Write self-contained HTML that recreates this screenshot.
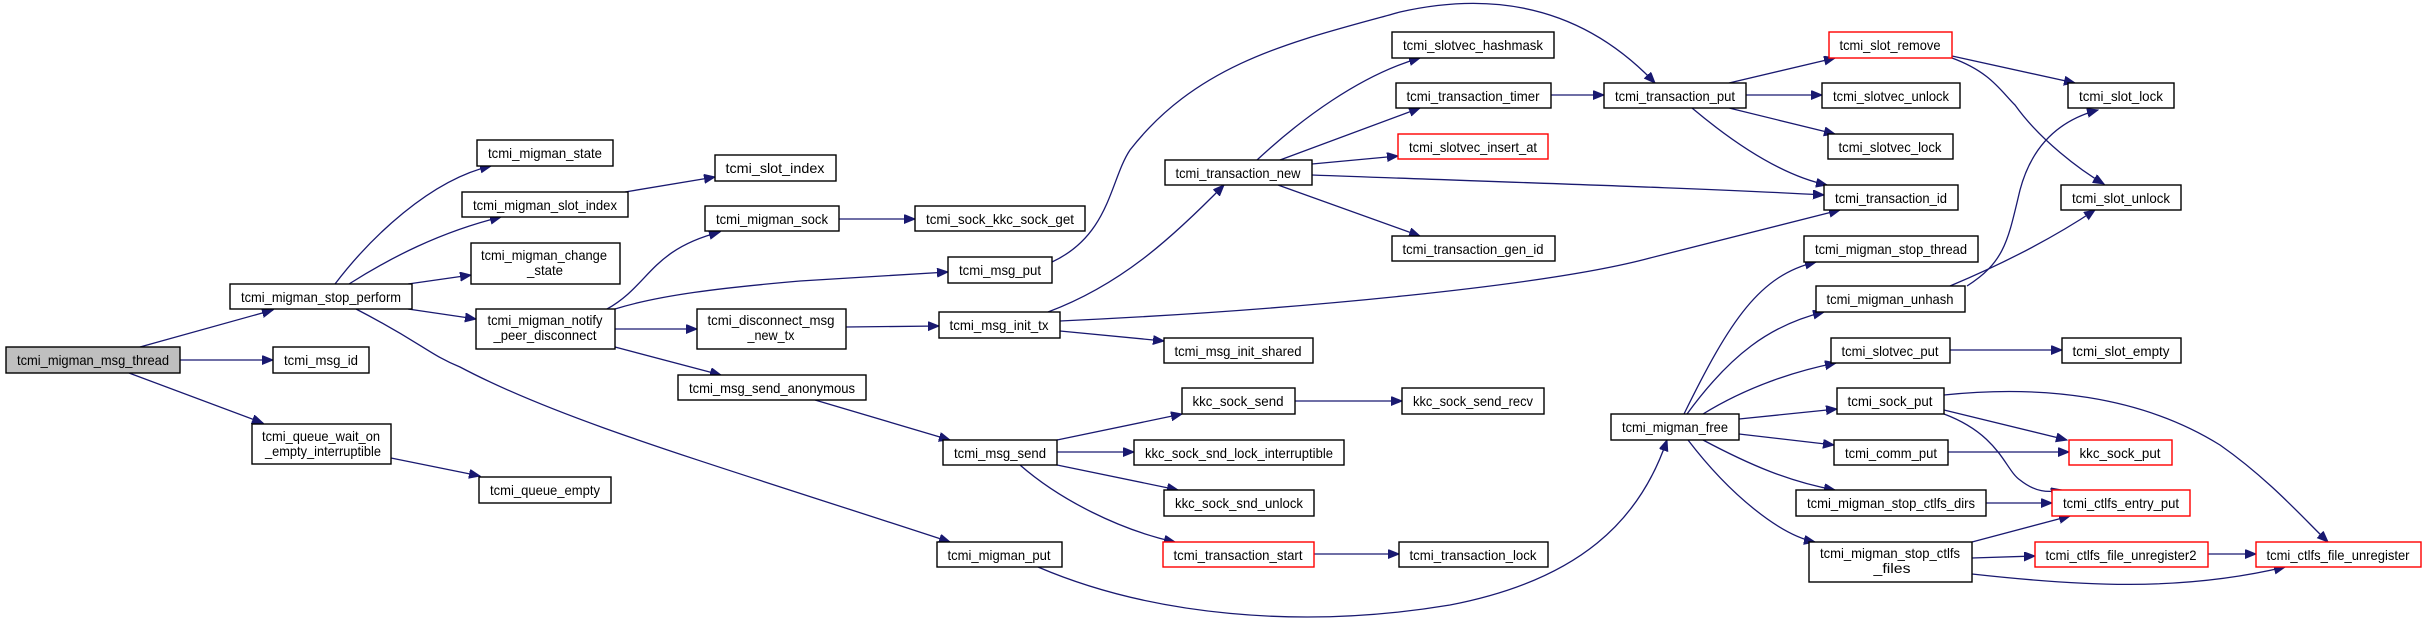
<!DOCTYPE html>
<html><head><meta charset="utf-8"><style>
html,body{margin:0;padding:0;background:#fff;}
svg{display:block;}
text{font-family:"Liberation Sans",sans-serif;font-size:14px;fill:#000;text-anchor:middle;}
rect{fill:#fff;stroke:#000;stroke-width:1.4;}
rect.r{stroke:#ff0000;}
rect.g{fill:#bfbfbf;}
path{fill:none;stroke:#191970;stroke-width:1.3;}
</style></head><body>
<svg width="2427" height="624" viewBox="0 0 2427 624" xmlns="http://www.w3.org/2000/svg">
<defs><marker id="a" markerUnits="userSpaceOnUse" markerWidth="12" markerHeight="10" refX="11" refY="4.5" orient="auto"><path d="M0,0 L11,4.5 L0,9 z" style="fill:#191970;stroke:#191970;stroke-width:1"/></marker></defs>
<g marker-end="url(#a)">
<path d="M140,347 L273,310"/>
<path d="M180,360 L273,360"/>
<path d="M129,373 L263,423"/>
<path d="M391,458 L480,476"/>
<path d="M335,284 C370,238 430,180 491,166"/>
<path d="M349,284 C390,258 440,232 501,217"/>
<path d="M408,284 L471,275"/>
<path d="M408,309 L476,319"/>
<path d="M356,309 C420,342 430,355 460,367 C560,420 700,460 950,542"/>
<path d="M625,192 L715,177"/>
<path d="M607,309 C650,285 650,250 720,232"/>
<path d="M615,309 C660,295 720,288 800,281 L948,272"/>
<path d="M615,329 L697,329"/>
<path d="M615,347 L721,375"/>
<path d="M839,219 L915,219"/>
<path d="M1052,262 C1110,235 1110,180 1130,150 C1200,60 1300,40 1400,12 C1520,-15 1600,25 1655,83"/>
<path d="M846,327 L939,326"/>
<path d="M1048,312 C1120,285 1170,240 1224,185"/>
<path d="M1060,321 C1300,310 1550,285 1650,258 C1720,240 1780,225 1840,210"/>
<path d="M1060,331 L1164,341"/>
<path d="M815,400 L950,440"/>
<path d="M1057,440 L1182,414"/>
<path d="M1057,452 L1134,452"/>
<path d="M1057,465 L1178,490"/>
<path d="M1020,465 C1060,500 1120,530 1175,542"/>
<path d="M1295,401 L1402,401"/>
<path d="M1314,554 L1399,554"/>
<path d="M1038,567 C1150,615 1300,630 1450,605 C1580,580 1640,520 1667,440"/>
<path d="M1257,160 C1300,120 1360,75 1420,58"/>
<path d="M1280,160 L1420,108"/>
<path d="M1312,164 L1398,156"/>
<path d="M1312,175 C1500,182 1700,188 1824,195"/>
<path d="M1278,185 L1420,236"/>
<path d="M1551,95 L1604,95"/>
<path d="M1729,83 L1835,58"/>
<path d="M1746,95 L1822,95"/>
<path d="M1729,108 L1835,134"/>
<path d="M1692,108 C1730,140 1780,175 1827,185"/>
<path d="M1952,56 L2075,83"/>
<path d="M1952,58 C1990,72 2000,90 2015,105 C2040,140 2080,170 2104,184"/>
<path d="M1684,414 C1730,320 1760,275 1816,262"/>
<path d="M1687,414 C1730,355 1770,325 1824,312"/>
<path d="M1703,414 C1750,385 1800,370 1836,363"/>
<path d="M1739,419 L1837,409"/>
<path d="M1739,434 L1834,445"/>
<path d="M1703,440 C1750,465 1790,482 1835,490"/>
<path d="M1688,440 C1730,495 1780,535 1815,542"/>
<path d="M1967,286 C2005,262 2008,240 2020,190 C2032,145 2060,120 2098,110"/>
<path d="M1950,286 C2000,265 2050,240 2095,210"/>
<path d="M1950,350 L2062,350"/>
<path d="M1944,395 C2040,385 2140,395 2220,445 C2270,480 2305,520 2328,542"/>
<path d="M1944,410 L2067,440"/>
<path d="M1944,414 C2000,435 2005,470 2020,480 C2035,492 2048,493 2062,490"/>
<path d="M1948,452 L2069,452"/>
<path d="M1986,503 L2052,503"/>
<path d="M1972,542 L2070,516"/>
<path d="M1972,558 L2035,556"/>
<path d="M1972,574 C2080,586 2180,592 2285,567"/>
<path d="M2208,554 L2256,554"/>
</g>

<rect class="g" x="6" y="347" width="174" height="26"/><text x="93" y="365" textLength="152" lengthAdjust="spacingAndGlyphs">tcmi_migman_msg_thread</text>
<rect x="230" y="284" width="182" height="25"/><text x="321" y="302" textLength="160" lengthAdjust="spacingAndGlyphs">tcmi_migman_stop_perform</text>
<rect x="273" y="347" width="96" height="26"/><text x="321" y="365" textLength="74" lengthAdjust="spacingAndGlyphs">tcmi_msg_id</text>
<rect x="252" y="424" width="139" height="40"/><text x="321" y="441" textLength="118" lengthAdjust="spacingAndGlyphs">tcmi_queue_wait_on</text><text x="323" y="456" textLength="116" lengthAdjust="spacingAndGlyphs">_empty_interruptible</text>
<rect x="479" y="477" width="132" height="26"/><text x="545" y="495" textLength="110" lengthAdjust="spacingAndGlyphs">tcmi_queue_empty</text>
<rect x="477" y="140" width="136" height="26"/><text x="545" y="158" textLength="114" lengthAdjust="spacingAndGlyphs">tcmi_migman_state</text>
<rect x="462" y="192" width="166" height="25"/><text x="545" y="210" textLength="144" lengthAdjust="spacingAndGlyphs">tcmi_migman_slot_index</text>
<rect x="471" y="243" width="149" height="41"/><text x="544" y="260" textLength="126" lengthAdjust="spacingAndGlyphs">tcmi_migman_change</text><text x="545" y="275" textLength="36" lengthAdjust="spacingAndGlyphs">_state</text>
<rect x="476" y="309" width="139" height="40"/><text x="545" y="325" textLength="115" lengthAdjust="spacingAndGlyphs">tcmi_migman_notify</text><text x="545" y="340" textLength="103" lengthAdjust="spacingAndGlyphs">_peer_disconnect</text>
<rect x="715" y="155" width="121" height="26"/><text x="775" y="173" textLength="99" lengthAdjust="spacingAndGlyphs">tcmi_slot_index</text>
<rect x="705" y="206" width="134" height="25"/><text x="772" y="224" textLength="112" lengthAdjust="spacingAndGlyphs">tcmi_migman_sock</text>
<rect x="697" y="309" width="149" height="40"/><text x="771" y="325" textLength="127" lengthAdjust="spacingAndGlyphs">tcmi_disconnect_msg</text><text x="771" y="340" textLength="47" lengthAdjust="spacingAndGlyphs">_new_tx</text>
<rect x="678" y="375" width="188" height="25"/><text x="772" y="393" textLength="166" lengthAdjust="spacingAndGlyphs">tcmi_msg_send_anonymous</text>
<rect x="915" y="206" width="170" height="25"/><text x="1000" y="224" textLength="148" lengthAdjust="spacingAndGlyphs">tcmi_sock_kkc_sock_get</text>
<rect x="948" y="257" width="104" height="26"/><text x="1000" y="275" textLength="82" lengthAdjust="spacingAndGlyphs">tcmi_msg_put</text>
<rect x="939" y="312" width="121" height="26"/><text x="999" y="330" textLength="99" lengthAdjust="spacingAndGlyphs">tcmi_msg_init_tx</text>
<rect x="1165" y="160" width="147" height="25"/><text x="1238" y="178" textLength="125" lengthAdjust="spacingAndGlyphs">tcmi_transaction_new</text>
<rect x="1392" y="32" width="162" height="26"/><text x="1473" y="50" textLength="140" lengthAdjust="spacingAndGlyphs">tcmi_slotvec_hashmask</text>
<rect x="1396" y="83" width="155" height="25"/><text x="1473" y="101" textLength="133" lengthAdjust="spacingAndGlyphs">tcmi_transaction_timer</text>
<rect class="r" x="1398" y="134" width="150" height="25"/><text x="1473" y="152" textLength="128" lengthAdjust="spacingAndGlyphs">tcmi_slotvec_insert_at</text>
<rect x="1392" y="236" width="163" height="25"/><text x="1473" y="254" textLength="141" lengthAdjust="spacingAndGlyphs">tcmi_transaction_gen_id</text>
<rect x="1164" y="338" width="149" height="25"/><text x="1238" y="356" textLength="127" lengthAdjust="spacingAndGlyphs">tcmi_msg_init_shared</text>
<rect x="1182" y="388" width="113" height="26"/><text x="1238" y="406" textLength="91" lengthAdjust="spacingAndGlyphs">kkc_sock_send</text>
<rect x="1402" y="388" width="142" height="26"/><text x="1473" y="406" textLength="120" lengthAdjust="spacingAndGlyphs">kkc_sock_send_recv</text>
<rect x="943" y="440" width="114" height="25"/><text x="1000" y="458" textLength="92" lengthAdjust="spacingAndGlyphs">tcmi_msg_send</text>
<rect x="1134" y="440" width="210" height="25"/><text x="1239" y="458" textLength="188" lengthAdjust="spacingAndGlyphs">kkc_sock_snd_lock_interruptible</text>
<rect x="1164" y="490" width="150" height="26"/><text x="1239" y="508" textLength="128" lengthAdjust="spacingAndGlyphs">kkc_sock_snd_unlock</text>
<rect class="r" x="1163" y="542" width="151" height="25"/><text x="1238" y="560" textLength="129" lengthAdjust="spacingAndGlyphs">tcmi_transaction_start</text>
<rect x="1399" y="542" width="149" height="25"/><text x="1473" y="560" textLength="127" lengthAdjust="spacingAndGlyphs">tcmi_transaction_lock</text>
<rect x="937" y="542" width="125" height="25"/><text x="999" y="560" textLength="103" lengthAdjust="spacingAndGlyphs">tcmi_migman_put</text>
<rect x="1604" y="83" width="142" height="25"/><text x="1675" y="101" textLength="120" lengthAdjust="spacingAndGlyphs">tcmi_transaction_put</text>
<rect class="r" x="1829" y="32" width="123" height="26"/><text x="1890" y="50" textLength="101" lengthAdjust="spacingAndGlyphs">tcmi_slot_remove</text>
<rect x="1822" y="83" width="138" height="25"/><text x="1891" y="101" textLength="116" lengthAdjust="spacingAndGlyphs">tcmi_slotvec_unlock</text>
<rect x="1828" y="134" width="125" height="25"/><text x="1890" y="152" textLength="103" lengthAdjust="spacingAndGlyphs">tcmi_slotvec_lock</text>
<rect x="1824" y="185" width="134" height="25"/><text x="1891" y="203" textLength="112" lengthAdjust="spacingAndGlyphs">tcmi_transaction_id</text>
<rect x="2068" y="83" width="106" height="25"/><text x="2121" y="101" textLength="84" lengthAdjust="spacingAndGlyphs">tcmi_slot_lock</text>
<rect x="2061" y="185" width="120" height="25"/><text x="2121" y="203" textLength="98" lengthAdjust="spacingAndGlyphs">tcmi_slot_unlock</text>
<rect x="1804" y="236" width="174" height="26"/><text x="1891" y="254" textLength="152" lengthAdjust="spacingAndGlyphs">tcmi_migman_stop_thread</text>
<rect x="1816" y="286" width="149" height="26"/><text x="1890" y="304" textLength="127" lengthAdjust="spacingAndGlyphs">tcmi_migman_unhash</text>
<rect x="1831" y="338" width="119" height="25"/><text x="1890" y="356" textLength="97" lengthAdjust="spacingAndGlyphs">tcmi_slotvec_put</text>
<rect x="2062" y="338" width="119" height="25"/><text x="2121" y="356" textLength="97" lengthAdjust="spacingAndGlyphs">tcmi_slot_empty</text>
<rect x="1837" y="388" width="107" height="26"/><text x="1890" y="406" textLength="85" lengthAdjust="spacingAndGlyphs">tcmi_sock_put</text>
<rect x="1611" y="414" width="128" height="26"/><text x="1675" y="432" textLength="106" lengthAdjust="spacingAndGlyphs">tcmi_migman_free</text>
<rect x="1834" y="440" width="114" height="25"/><text x="1891" y="458" textLength="92" lengthAdjust="spacingAndGlyphs">tcmi_comm_put</text>
<rect class="r" x="2069" y="440" width="103" height="25"/><text x="2120" y="458" textLength="81" lengthAdjust="spacingAndGlyphs">kkc_sock_put</text>
<rect x="1796" y="490" width="190" height="26"/><text x="1891" y="508" textLength="168" lengthAdjust="spacingAndGlyphs">tcmi_migman_stop_ctlfs_dirs</text>
<rect class="r" x="2052" y="490" width="138" height="26"/><text x="2121" y="508" textLength="116" lengthAdjust="spacingAndGlyphs">tcmi_ctlfs_entry_put</text>
<rect x="1809" y="542" width="163" height="40"/><text x="1890" y="558" textLength="140" lengthAdjust="spacingAndGlyphs">tcmi_migman_stop_ctlfs</text><text x="1892" y="573" textLength="37" lengthAdjust="spacingAndGlyphs">_files</text>
<rect class="r" x="2035" y="542" width="173" height="25"/><text x="2121" y="560" textLength="151" lengthAdjust="spacingAndGlyphs">tcmi_ctlfs_file_unregister2</text>
<rect class="r" x="2256" y="542" width="165" height="25"/><text x="2338" y="560" textLength="143" lengthAdjust="spacingAndGlyphs">tcmi_ctlfs_file_unregister</text>
</svg>
</body></html>
